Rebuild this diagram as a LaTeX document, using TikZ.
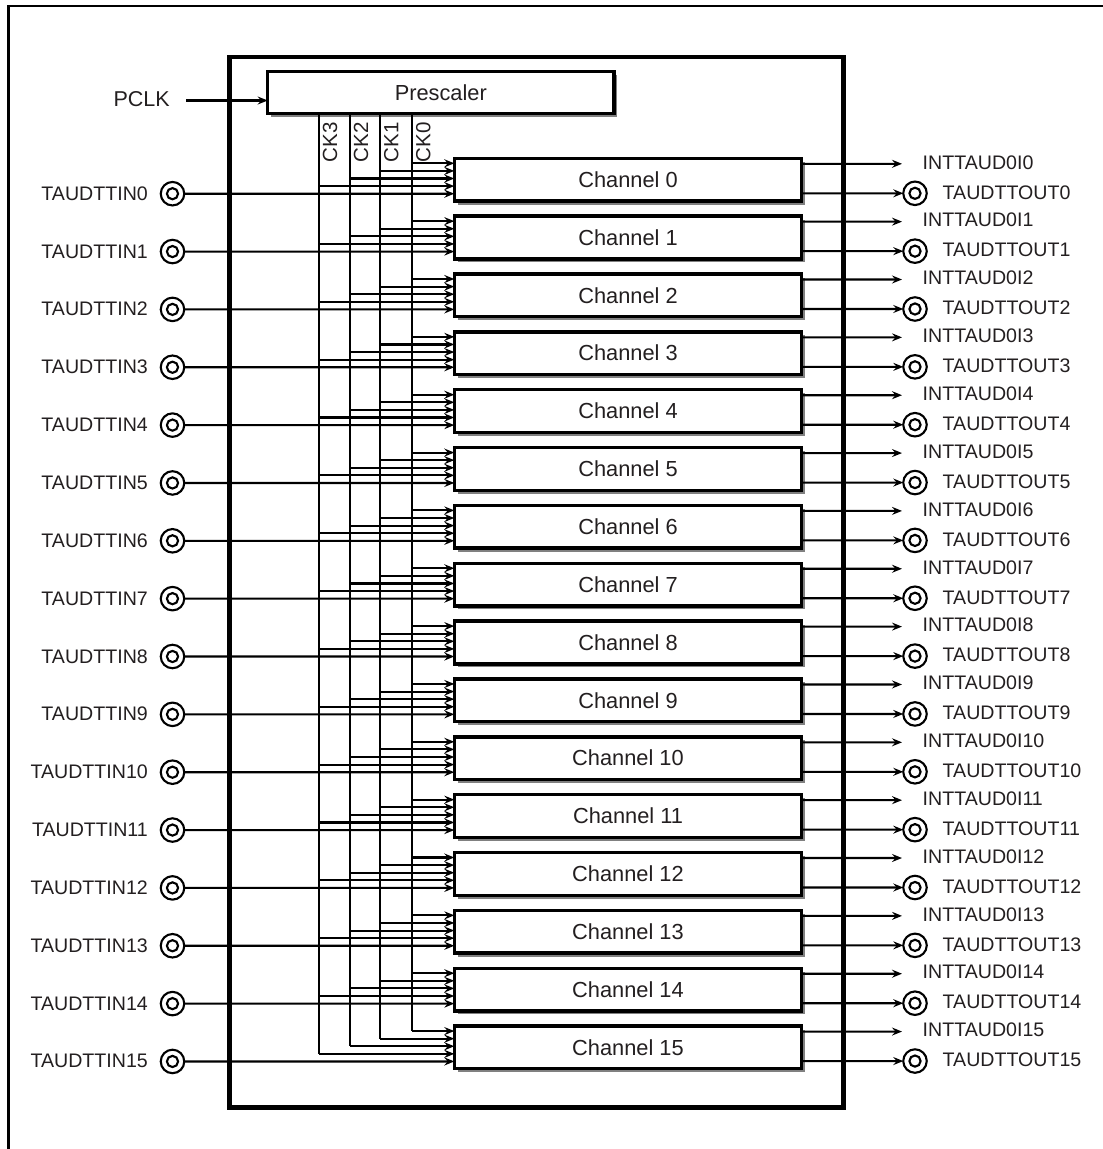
\documentclass[tikz,border=0pt]{standalone}
\usepackage{fontspec}
\setmainfont{Liberation Sans}
\usetikzlibrary{arrows.meta,shadows}
\definecolor{txt}{HTML}{231F20}
\begin{document}
\begin{tikzpicture}[x=1pt,y=-1pt,
  lbl/.style={font=\fontsize{19.6}{22}\selectfont, text=txt, inner sep=0pt},
  boxtxt/.style={font=\fontsize{21.8}{24}\selectfont, text=txt},
  chbox/.style={draw, line width=3.4pt, fill=white, inner sep=0pt, outer sep=0pt,
    minimum width=347.4pt, minimum height=42.7pt, boxtxt,
    drop shadow={shadow xshift=3.5pt, shadow yshift=-3.5pt, fill=black!50, opacity=1}},
  conn/.style={line width=2.1pt},
  arr/.style={conn, -{Stealth[length=10pt,width=8pt,inset=3.5pt]}},
  pin/.style={circle, draw, line width=2.1pt, minimum size=23.5pt, inner sep=0pt, outer sep=0pt, fill=white},
]
\useasboundingbox (0,0) rectangle (1103,1149);
% outer frame (partial)
\draw[line width=2.4pt] (8.3,1149) -- (8.3,6) -- (1103,6);
% TAU main box
\node[draw, line width=4.8pt, minimum width=614.1pt, minimum height=1050.5pt, inner sep=0pt, outer sep=0pt,
  drop shadow={shadow xshift=1.2pt, shadow yshift=-1.2pt, fill=black!40, opacity=1}, fill=white]
  (tau) at (536.25,582.25) {};
% prescaler
\node[chbox, minimum width=346.3pt, minimum height=41.6pt] (pre) at (440.8,92.5) {Prescaler};
\node[lbl, font=\fontsize{21.5}{24}\selectfont, anchor=east] (pclk) at (170,99) {PCLK};
\coordinate (pclkstart) at (186,100.5);
\draw[arr] (pclkstart) -- (pclkstart -| pre.west);
% clock taps
\coordinate (ck0) at (412.3,113.3);
\coordinate (ck1) at (380.3,113.3);
\coordinate (ck2) at (350,113.3);
\coordinate (ck3) at (319,113.3);
\foreach \j in {0,...,3} {
  \node[lbl, font=\fontsize{20.5}{22}\selectfont, rotate=90, anchor=north east] (cklab\j) at ([xshift=3.5pt,yshift=-9pt]ck\j) {CK\j};
}
% channels
\foreach \k in {0,...,15} {
  \pgfmathsetmacro\ytop{158.3+57.85*\k}
  \pgfmathsetmacro\yc{\ytop+21.35}
  \node[chbox] (ch\k) at (628,\yc) {Channel \k};
  \foreach \j/\off in {0/5,1/12.6,2/20.2,3/27.8,4/35.4} {
    \path (ch\k.north west) ++(0,\off) coordinate (a\k-\j);
  }
  % input pin
  \node[pin] (in\k) at (172.5,\ytop+35.4) {};
  \draw[line width=2.1pt] (in\k.center) circle[radius=5.6pt];
  \node[lbl, anchor=east] (inlab\k) at (148,\ytop+35.2) {TAUDTTIN\k};
  \draw[arr] (in\k.east) -- (a\k-4);
  % outputs
  \path (ch\k.north east) ++(0,5.5) coordinate (r\k);
  \path (ch\k.north east) ++(0,35) coordinate (s\k);
  \coordinate (i\k) at (902,\ytop+5.5);
  \node[pin] (out\k) at (915,\ytop+35) {};
  \draw[line width=2.1pt] (out\k.center) circle[radius=5.6pt];
  \draw[arr] (r\k) -- (i\k);
  \draw[arr] (s\k) -- (out\k.west);
  \node[lbl, anchor=west] (intlab\k) at (922.5,\ytop+4) {INTTAUD0I\k};
  \node[lbl, anchor=west] (outlab\k) at (942.5,\ytop+34) {TAUDTTOUT\k};
}
% clock distribution
\foreach \j in {0,...,3} {
  \draw[conn] (ck\j) -- (ck\j |- a15-\j);
  \foreach \k in {0,...,15} {
    \draw[arr] (ck\j |- a\k-\j) -- (a\k-\j);
  }
}
\end{tikzpicture}
\end{document}
